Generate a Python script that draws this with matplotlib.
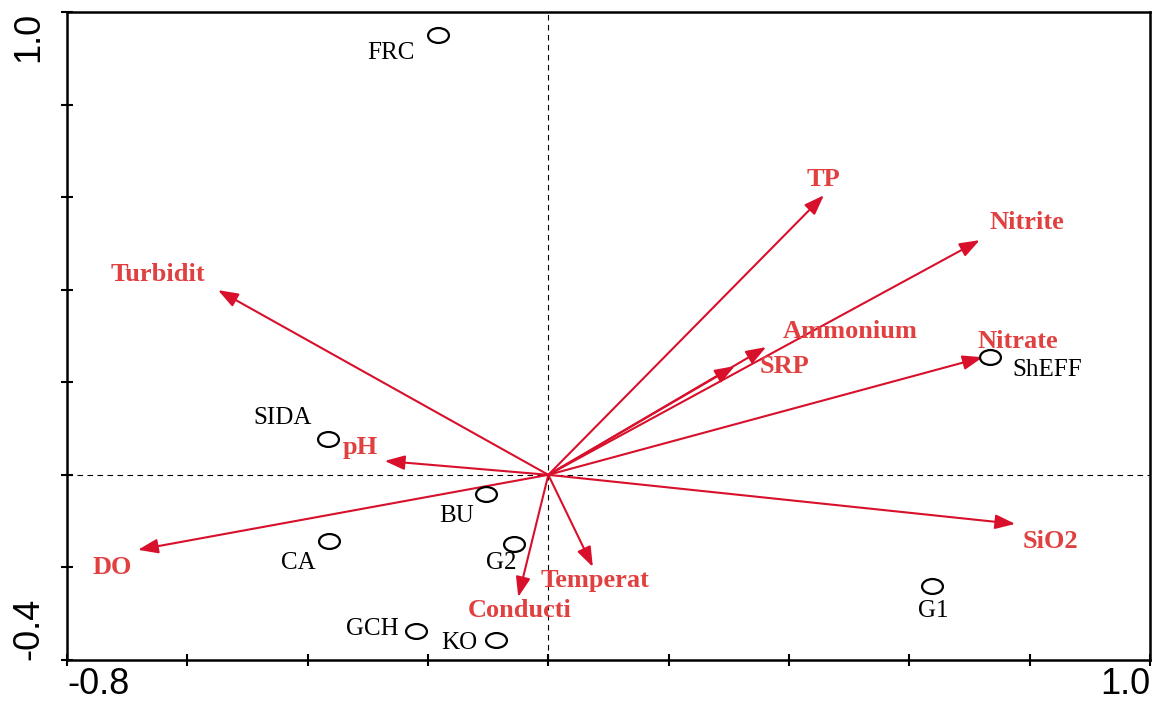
import numpy as np
import matplotlib
matplotlib.use("Agg")
import matplotlib.pyplot as plt
from matplotlib.path import Path

# environmental variables (arrow tips) and where their labels sit
env_names = ['TP', 'Nitrite', 'Nitrate', 'Ammonium', 'SRP', 'SiO2',
             'Temperat', 'Conducti', 'DO', 'pH', 'Turbidit']
env_x = [0.458, 0.717, 0.722, 0.362, 0.310, 0.776, 0.074, -0.050, -0.682, -0.272, -0.549]
env_y = [0.604, 0.507, 0.254, 0.276, 0.235, -0.106, -0.199, -0.264, -0.162, 0.030, 0.399]
env_lx = [0.458, 0.795, 0.781, 0.501, 0.392, 0.835, 0.078, -0.047, -0.724, -0.312, -0.649]
env_ly = [0.637, 0.546, 0.289, 0.310, 0.233, -0.145, -0.229, -0.294, -0.201, 0.058, 0.432]

# sampling sites
site_names = ['FRC', 'SIDA', 'ShEFF', 'BU', 'CA', 'G2', 'G1', 'GCH', 'KO']
site_x = [-0.183, -0.366, 0.734, -0.103, -0.365, -0.057, 0.638, -0.220, -0.087]
site_y = [0.950, 0.078, 0.254, -0.041, -0.143, -0.150, -0.240, -0.337, -0.356]
site_lx = [-0.262, -0.442, 0.830, -0.153, -0.416, -0.079, 0.639, -0.293, -0.148]
site_ly = [0.911, 0.123, 0.227, -0.089, -0.190, -0.190, -0.294, -0.333, -0.363]

arrow_col = '#d8102c'
text_col = '#e04040'

fig = plt.figure(figsize=(11.53, 7.03), dpi=100)
ax = fig.add_axes([0.0581, 0.0612, 0.9393, 0.9218])
ax.set_xlim(-0.8, 1.0)
ax.set_ylim(-0.4, 1.0)

ax.axhline(0, color='black', lw=0.8, ls=(0, (5, 4)), zorder=1)
ax.axvline(0, color='black', lw=0.8, ls=(0, (5, 4)), zorder=1)

for i, name in enumerate(env_names):
    ax.annotate('', xy=(env_x[i], env_y[i]), xytext=(0, 0),
                arrowprops=dict(arrowstyle='-|>,head_length=0.55,head_width=0.2',
                                color=arrow_col, lw=1.5,
                                mutation_scale=22, shrinkA=0, shrinkB=0),
                zorder=3)
    ax.text(env_lx[i], env_ly[i], name, color=text_col, fontsize=19,
            fontweight='bold', family='Liberation Serif',
            ha='center', va='center', zorder=4)

# slightly wide open ellipse, like the stretched circles of the original
uc = Path.unit_circle()
ell = Path(uc.vertices * np.array([1.4, 1.0]), uc.codes)
ax.plot(site_x, site_y, ls='none', marker=ell, markersize=15,
        mfc='none', mec='black', mew=1.6, zorder=5)
for i, name in enumerate(site_names):
    ax.text(site_lx[i], site_ly[i], name, color='black', fontsize=18,
            family='Liberation Serif', ha='center', va='center', zorder=4)

for s in ax.spines.values():
    s.set_linewidth(1.8)

ax.set_xticks(np.arange(-0.8, 1.01, 0.2))
ax.set_yticks(np.arange(-0.4, 1.01, 0.2))
ax.set_xticklabels([])
ax.set_yticklabels([])
ax.tick_params(direction='inout', length=9, width=1.5)

tick_font = dict(family='Liberation Sans', fontsize=26)
ax.text(-0.8, -0.474, '-0.8', ha='left', va='baseline', **tick_font)
ax.text(1.0, -0.474, '1.0', ha='right', va='baseline', **tick_font)
ax.text(-0.835, 1.0, '1.0', ha='right', va='top', rotation=90, **tick_font)
ax.text(-0.835, -0.4, '-0.4', ha='right', va='bottom', rotation=90, **tick_font)

fig.savefig('out.png', dpi=100)
